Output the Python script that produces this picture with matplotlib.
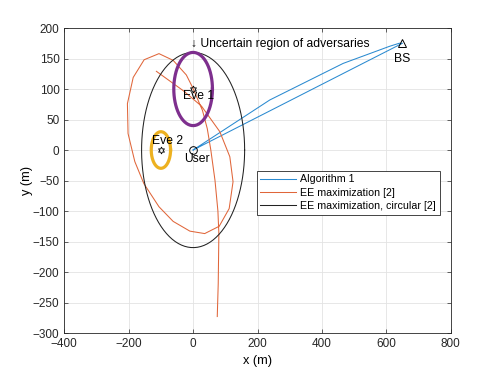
import numpy as np
import matplotlib
matplotlib.use("Agg")
import matplotlib.pyplot as plt

plt.rcParams['font.family'] = ['Liberation Sans', 'DejaVu Sans']

# Trajectory of Algorithm 1 (user -> BS -> user)
alg1_x = [0, 238, 466, 610, 640, 650, 0]
alg1_y = [0, 82, 142, 170, 175, 175, 0]

# Trajectory of EE maximization [2]
ee_x = [-114, -30, 26, 83, 114, 124, 112, 81, 36, -10, -62, -106, -153, -181,
        -202, -204, -186, -152, -106, -62, -21, -2, 29, 44, 55, 68, 77, 80, 78, 75]
ee_y = [129, 97, 72, 30, -11, -52, -96, -125, -137, -133, -117, -93, -55, -19,
        27, 76, 119, 148, 158, 147, 123, 103, 65, 35, 0, -50, -100, -137, -219, -273]

# circular trajectory of [2]
circ_center = (0, 0)
circ_radius = 160

# nodes
user_pos = (0, 0)
bs_pos = (650, 175)
eve_pos = [(0, 100), (-100, 0)]
eve_radius = [60, 30]
eve_labels = ['Eve 1', 'Eve 2']

blue = '#2a8ad0'
orange = '#e0663a'
yellow = '#EDB120'
purple = '#7E2F8E'

fig = plt.figure(figsize=(4.98, 3.74), dpi=100)
ax = fig.add_axes([0.1291, 0.1096, 0.776, 0.8155])

ax.plot(alg1_x, alg1_y, color=blue, lw=0.75, label='Algorithm 1')
ax.plot(ee_x, ee_y, color=orange, lw=0.75, label='EE maximization [2]')
t = np.linspace(0, 2 * np.pi, 200)
ax.plot(circ_center[0] + circ_radius * np.cos(t), circ_center[1] + circ_radius * np.sin(t),
        color='#222222', lw=0.75, label='EE maximization, circular [2]')

# uncertainty regions of the eavesdroppers
for (ex, ey), r, c in zip(eve_pos, eve_radius, [purple, yellow]):
    ax.plot(ex + r * np.cos(t), ey + r * np.sin(t), color=c, lw=2.3)
    ax.plot(ex, ey, marker=(6, 1, 0), color='black', ms=5, mfc='none', mew=0.6)

ax.plot(*user_pos, 'o', color='black', ms=5.5, mfc='none', mew=0.7)
ax.plot(*bs_pos, '^', color='black', ms=6, mfc='none', mew=0.7)

fs = 8.7
ax.text(-32, 89, eve_labels[0], fontsize=fs, va='center')
ax.text(-128, 14, eve_labels[1], fontsize=fs, va='center')
ax.text(-29, -15, 'User', fontsize=fs, va='center')
ax.text(624, 150, 'BS', fontsize=fs, va='center')
ax.text(-8, 173, '\u2193 Uncertain region of adversaries', fontsize=fs, va='center')

ax.set_xlim(-400, 800)
ax.set_ylim(-300, 200)
ax.set_xticks(np.arange(-400, 801, 200))
ax.set_yticks(np.arange(-300, 201, 50))
ax.grid(True, color='#e3e3e3', lw=0.6)
ax.set_axisbelow(True)
ax.tick_params(direction='in', top=True, right=True, labelsize=8.5, length=3, width=0.5,
               colors='#262626')
for s in ax.spines.values():
    s.set_linewidth(0.6)
    s.set_color('#262626')
ax.set_xlabel('x (m)', fontsize=9.2, labelpad=4)
ax.set_ylabel('y (m)', fontsize=9.2, labelpad=0)

leg = ax.legend(loc='upper left', bbox_to_anchor=(0.498, 0.532), fontsize=7.7,
                fancybox=False, framealpha=1, edgecolor='#262626', handlelength=3.3,
                labelspacing=0.3, borderpad=0.35, handletextpad=0.4, borderaxespad=0)
leg.get_frame().set_linewidth(0.6)

plt.savefig('out.png', dpi=100)
